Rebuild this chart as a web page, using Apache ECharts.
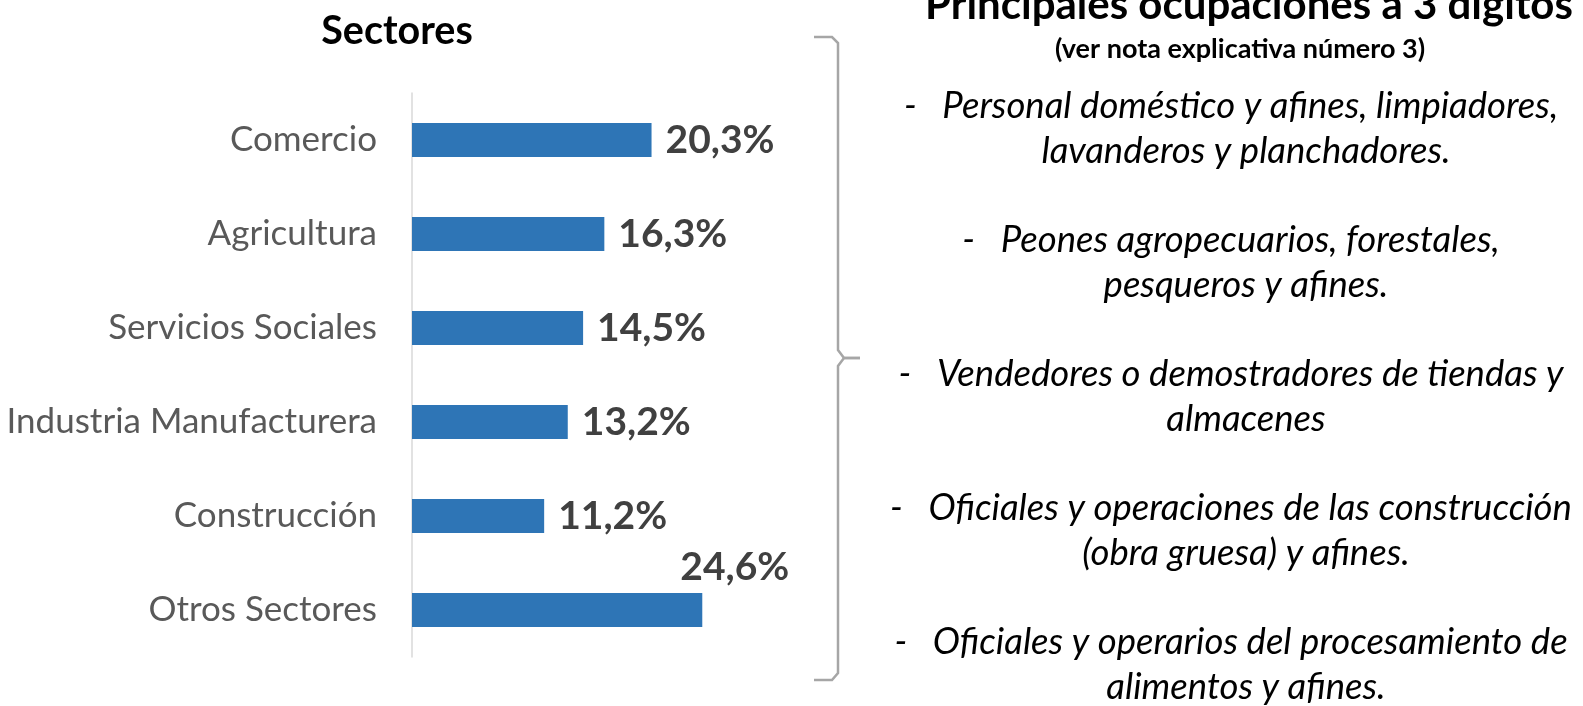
<!DOCTYPE html>
<html><head><meta charset="utf-8">
<script src="https://cdn.jsdelivr.net/npm/echarts@6/dist/echarts.min.js"></script>
<style>html,body{margin:0;padding:0;background:#fff}#c{width:1583px;height:706px}</style>
</head><body><div id="c"></div>
<script>
const categories = ['Comercio','Agricultura','Servicios Sociales','Industria Manufacturera','Construcción','Otros Sectores'];
const values = [20.3, 16.3, 14.5, 13.2, 11.2, 24.6];
const leftTitle = 'Sectores';
const rightTitle = 'Principales ocupaciones a 3 dígitos';
const rightSubtitle = '(ver nota explicativa número 3)';
const occupations = [
  ['-   Personal doméstico y afines, limpiadores,', 'lavanderos y planchadores.'],
  ['-   Peones agropecuarios, forestales,', 'pesqueros y afines.'],
  ['-   Vendedores o demostradores de tiendas y', 'almacenes'],
  ['-   Oficiales y operaciones de las construcción', '(obra gruesa) y afines.'],
  ['-   Oficiales y operarios del procesamiento de', 'alimentos y afines.']
];

const chart = echarts.init(document.getElementById('c'), null, {renderer:'canvas'});
const FONT = 'Lato';
const blockY = [106, 240, 374, 508, 642];
const textEls = [];
occupations.forEach((lines, i) => {
  lines.forEach((t, j) => {
    textEls.push({type:'text', style:{text:t, x: j === 0 ? 1231 : 1246, y:blockY[i] + j*45, textAlign:'center', textVerticalAlign:'middle',
      font:'italic 36.5px ' + FONT, fill:'#000'}});
  });
});
const option = {
  animation:false,
  grid:{left:412, top:93, width:354, height:564},
  xAxis:{type:'value', min:0, max:30, show:false},
  yAxis:{type:'category', data:categories, inverse:true,
    axisLine:{show:true, lineStyle:{color:'#D9D9D9', width:1.5}},
    axisTick:{show:false},
    axisLabel:{color:'#595959', fontFamily:FONT, fontSize:35, margin:35}},
  series:[{type:'bar', barWidth:34,
    itemStyle:{color:'#2E75B6'},
    data: values.map((v,i) => i === values.length-1 ?
      {value:v, label:{position:'right', distance:0, offset:[-22,-43]}} : v),
    label:{show:true, position:'right', distance:14, color:'#404040', fontFamily:FONT, fontWeight:'bold', fontSize:39,
      formatter: p => p.value.toFixed(1).replace('.',',') + '%'}
  }],
  graphic:[
    {type:'text', style:{text:leftTitle, x:397, y:31, textAlign:'center', textVerticalAlign:'middle', font:'bold 39.5px ' + FONT, fill:'#000'}},
    {type:'text', style:{text:rightTitle, x:1249, y:5, textAlign:'center', textVerticalAlign:'middle', font:'bold 42px ' + FONT, fill:'#000'}},
    {type:'text', style:{text:rightSubtitle, x:1240, y:49, textAlign:'center', textVerticalAlign:'middle', font:'bold 27px ' + FONT, fill:'#000'}},
    {type:'polyline', shape:{points:[[814,37],[832,37],[838,43],[838,350],[844,358],[860,358]]}, style:{stroke:'#A6A6A6', lineWidth:2.5, fill:null}},
    {type:'polyline', shape:{points:[[860,358],[844,358],[838,366],[838,673],[832,680],[814,680]]}, style:{stroke:'#A6A6A6', lineWidth:2.5, fill:null}}
  ].concat(textEls)
};
chart.setOption(option);
</script></body></html>
